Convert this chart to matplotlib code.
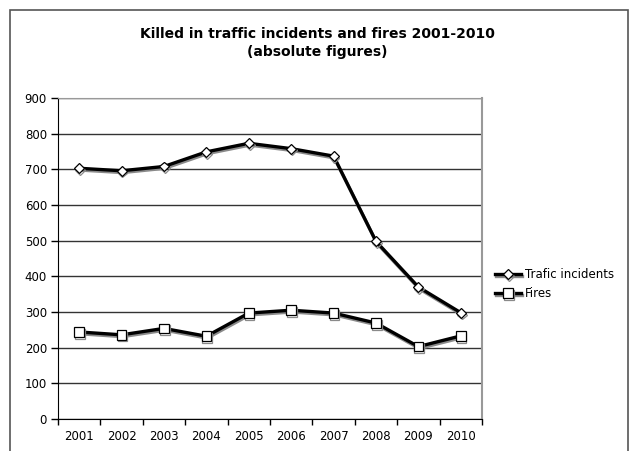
import matplotlib.pyplot as plt
import matplotlib.patheffects as pe
from matplotlib.patches import Rectangle

# data
years = ['2001', '2002', '2003', '2004', '2005', '2006', '2007', '2008', '2009', '2010']
traffic = [703, 696, 708, 749, 773, 758, 737, 498, 370, 298]
fires = [244, 236, 254, 232, 297, 305, 297, 269, 203, 233]

plt.rcParams['font.family'] = 'DejaVu Sans'

fig = plt.figure(figsize=(6.35, 4.51), dpi=100)
ax = fig.add_axes([58/635, 1 - 419/451, 424/635, 321/451])

# outer chart frame
fig.patches.append(Rectangle((10/635, -0.01), 618/635, 1 - 10/451 + 0.01,
                             transform=fig.transFigure, fill=False,
                             edgecolor='#555555', linewidth=1.2))

x = range(len(years))
shadow = [pe.SimpleLineShadow(offset=(0.6, -1.3), shadow_color='#8a8a8a', alpha=1), pe.Normal()]

ax.plot(x, traffic, color='black', lw=2.4, marker='D', markersize=5,
        markerfacecolor='white', markeredgecolor='black', markeredgewidth=0.9,
        label='Trafic incidents', path_effects=shadow, zorder=3)
ax.plot(x, fires, color='black', lw=2.4, marker='s', markersize=7,
        markerfacecolor='white', markeredgecolor='black', markeredgewidth=0.9,
        label='Fires', path_effects=shadow, zorder=3)

ax.set_xlim(-0.5, 9.5)
ax.set_ylim(0, 900)
ax.set_yticks(range(0, 901, 100))
ax.set_xticks(x)
ax.set_xticklabels(years)
ax.set_xticks([i - 0.5 for i in range(11)], minor=True)
ax.tick_params(axis='x', which='major', length=0, pad=8, labelsize=8.5)
ax.tick_params(axis='x', which='minor', length=4, direction='out', width=1)
ax.tick_params(axis='y', length=5, width=1, labelsize=8.5, pad=3)

ax.grid(axis='y', color='#333333', lw=1)
ax.set_axisbelow(True)
ax.spines['left'].set_color('black')
ax.spines['bottom'].set_color('black')
ax.spines['top'].set_color('#999999')
ax.spines['right'].set_color('#999999')
ax.spines['right'].set_linewidth(1.5)

ax.legend(loc='center left', bbox_to_anchor=(1.02, 0.42), frameon=False,
          fontsize=8.5, handlelength=2.2, handletextpad=0.3, labelspacing=0.5,
          borderaxespad=0)

fig.text(0.5, 1 - 43/451, 'Killed in traffic incidents and fires 2001-2010\n(absolute figures)',
         ha='center', va='center', fontsize=10, fontweight='bold', linespacing=1.4)

plt.savefig('out.png', dpi=100)
